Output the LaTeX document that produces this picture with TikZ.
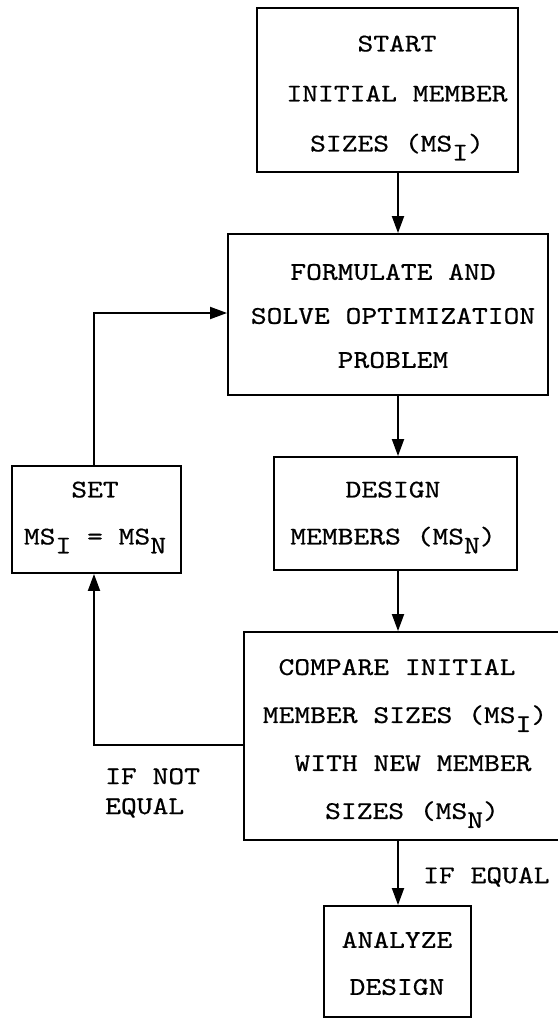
\documentclass[tikz,border=0pt]{standalone}
\usepackage{fontspec}
\newfontfamily\tw{lmmono10-regular}[Extension=.otf, FakeStretch=1.18, FakeBold=0.6]
\usetikzlibrary{arrows.meta}
\newcommand\subsc[1]{\raisebox{-9pt}{#1}}
\begin{document}
\begin{tikzpicture}[x=1pt,y=-1pt,
  box/.style={draw, line width=1.9pt, inner sep=0pt},
  txt/.style={align=center, font=\tw\fontsize{25.5}{47}\selectfont, inner sep=0pt},
  arr/.style={line width=1.9pt, -{Triangle[length=17pt,width=12pt]}},
  lbl/.style={align=left, font=\tw\fontsize{25.5}{30}\selectfont, inner sep=0pt, anchor=north west}]
\useasboundingbox (0,0) rectangle (557,1019);

% boxes
\node[box, minimum width=261pt, minimum height=164pt] (start) at (387.5,90) {};
\node[box, minimum width=320pt, minimum height=161pt] (solve) at (388,314.5) {};
\node[box, minimum width=169pt, minimum height=107pt] (set) at (96.5,519.5) {};
\node[box, minimum width=243pt, minimum height=113pt] (design) at (395.5,513.5) {};
\node[box, minimum width=321pt, minimum height=208pt] (compare) at (404.5,736) {};
\node[box, minimum width=147pt, minimum height=111pt] (analyze) at (397.5,961.5) {};

% texts
\node[txt, font=\tw\fontsize{25.5}{50}\selectfont] (starttext) at (397,98) {START\\INITIAL MEMBER\\SIZES (MS\subsc{I})};
\node[txt, font=\tw\fontsize{25.5}{44}\selectfont] (solvetext) at (393,316) {FORMULATE AND\\SOLVE OPTIMIZATION\\PROBLEM};
\node[txt] (settext) at (95,517.5) {SET\\MS\subsc{I} = MS\subsc{N}};
\node[txt] (designtext) at (393,517.5) {DESIGN\\MEMBERS (MS\subsc{N})};
\node[txt, font=\tw\fontsize{25.5}{48}\selectfont] (comparetext) at (405,743.5) {COMPARE INITIAL\hspace*{16pt}\\MEMBER SIZES (MS\subsc{I})\\\hspace*{16pt}WITH NEW MEMBER\\\hspace*{14pt}SIZES (MS\subsc{N})};
\node[txt] (analyzetext) at (397,963.5) {ANALYZE\\DESIGN};

% labels
\node[lbl] (notequal) at (105,768) {IF NOT\\EQUAL};
\node[lbl, anchor=west] (equal) at (423,877) {IF EQUAL};

% connectors
\coordinate (col) at (398,0);
\draw[arr] (start.south -| col) -- (solve.north -| col);
\draw[arr] (solve.south -| col) -- (design.north -| col);
\draw[arr] (design.south -| col) -- (compare.north -| col);
\draw[arr] (compare.south -| col) -- (analyze.north -| col);

\coordinate (c1) at (94,745);
\coordinate (c2) at (94,313);
\draw[arr] (compare.west |- c1) -- (c1) -- (c1 |- set.south);
\draw[arr] (c2 |- set.north) -- (c2) -- (c2 -| solve.west);
\end{tikzpicture}
\end{document}
